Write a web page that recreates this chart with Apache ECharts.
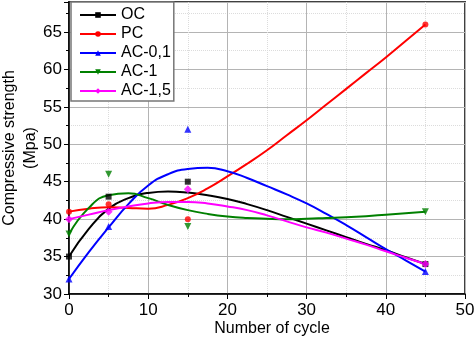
<!DOCTYPE html>
<html>
<head>
<meta charset="utf-8">
<style>
  html, body { margin: 0; padding: 0; background: #fff; }
  #chart { width: 474px; height: 337px; }
</style>
<script src="https://cdn.jsdelivr.net/npm/echarts@6/dist/echarts.min.js"></script>
</head>
<body>
<div id="chart"></div>
<script>
// Measured compressive strength (MPa) at each number of freeze-thaw cycles
const cycles = [0, 5, 15, 45];
const oc   = [35, 43, 45, 34];
const pc   = [41, 42, 40, 66];
const ac01 = [32, 39, 52, 33];
const ac1  = [38, 46, 39, 41];
const ac15 = [40, 41, 44, 34];

// Smoothed trend curves, sampled every 2.5 cycles
const fitX    = [0, 2.5, 5, 7.5, 10, 12.5, 15, 17.5, 20, 22.5, 25, 27.5, 30, 32.5, 35, 37.5, 40, 42.5, 45];
const ocFit   = [35, 38.7, 41.4, 42.8, 43.5, 43.7, 43.55, 43.2, 42.7, 42.0, 41.2, 40.3, 39.4, 38.5, 37.6, 36.7, 35.85, 34.9, 34];
const pcFit   = [41, 41.4, 41.6, 41.5, 41.4, 41.9, 42.8, 44.1, 45.7, 47.4, 49.2, 51.2, 53.2, 55.3, 57.4, 59.5, 61.6, 63.8, 66];
const ac01Fit = [32, 35.6, 38.9, 42.0, 44.5, 46.0, 46.7, 46.85, 46.4, 45.5, 44.4, 43.3, 42.1, 40.7, 39.2, 37.6, 36.0, 34.5, 33];
const ac1Fit  = [38, 41.5, 43.2, 43.45, 42.8, 41.9, 41.2, 40.7, 40.35, 40.15, 40.05, 40.0, 40.05, 40.15, 40.25, 40.4, 40.6, 40.8, 41];
const ac15Fit = [40, 40.6, 41.2, 41.7, 42.1, 42.3, 42.3, 42.1, 41.7, 41.2, 40.5, 39.7, 38.9, 38.2, 37.4, 36.6, 35.7, 34.85, 34];

const yTicks = { min: 30, max: 69, interval: 5 };
const xTicks = { min: 0, max: 50, interval: 10 };

const groups = [
  { name: 'OC',     color: '#000000', symbol: 'rect',     size: 6, pts: oc,   fit: ocFit },
  { name: 'PC',     color: '#FF0000', symbol: 'circle',   size: 6, pts: pc,   fit: pcFit },
  { name: 'AC-0,1', color: '#0000FF', symbol: 'triangle', size: 7, pts: ac01, fit: ac01Fit },
  { name: 'AC-1',   color: '#008000', symbol: 'path://M0,0L10,0L5,9Z', size: 7, pts: ac1, fit: ac1Fit },
  { name: 'AC-1,5', color: '#FF00FF', symbol: 'diamond',  size: 8, pts: ac15, fit: ac15Fit }
];

const pair = (xs, ys) => xs.map((x, i) => [x, ys[i]]);

const series = [];
groups.forEach(g => {
  series.push({
    name: g.name,
    type: 'line',
    smooth: 0.5,
    data: pair(fitX, g.fit),
    symbol: g.symbol,
    symbolSize: g.size,
    showSymbol: false,
    lineStyle: { color: g.color, width: 2 },
    itemStyle: { color: g.color },
    z: 3
  });
  series.push({
    name: g.name,
    type: 'scatter',
    data: pair(cycles, g.pts),
    symbol: g.symbol,
    symbolSize: g.size,
    itemStyle: { color: g.color },
    z: 4
  });
});

const font = 'Liberation Sans, Arial, sans-serif';
const chart = echarts.init(document.getElementById('chart'), null, { renderer: 'canvas' });
chart.setOption({
  animation: false,
  backgroundColor: '#fff',
  textStyle: { fontFamily: font },
  grid: {
    left: 69, right: 9, top: 2, bottom: 43,
    outerBoundsMode: 'none',
    containLabel: false,
    show: true, borderColor: '#404040', borderWidth: 2, backgroundColor: 'transparent'
  },
  legend: {
    orient: 'vertical',
    left: 71, top: 2,
    padding: [5, 3, 2, 8],
    itemWidth: 36, itemHeight: 7, itemGap: 3,
    backgroundColor: '#fff',
    borderColor: '#777', borderWidth: 1.5,
    textStyle: { fontSize: 16, lineHeight: 16, color: '#000', fontFamily: font },
    data: groups.map(g => g.name)
  },
  xAxis: {
    type: 'value',
    min: xTicks.min, max: xTicks.max, interval: xTicks.interval,
    name: 'Number of cycle',
    nameLocation: 'middle', nameGap: 27, nameMoveOverlap: false,
    nameTextStyle: { fontSize: 16, color: '#000', fontFamily: font, padding: [0, 0, 0, 10] },
    axisLine: { lineStyle: { color: '#000', width: 1.5 } },
    axisTick: { length: 5, lineStyle: { color: '#000' } },
    minorTick: { show: true, splitNumber: 2, length: 3, lineStyle: { color: '#000' } },
    axisLabel: { fontSize: 17, color: '#000', margin: 8, fontFamily: font },
    splitLine: { show: true, lineStyle: { color: '#b4b4b4', width: 1 } },
    minorSplitLine: { show: true, lineStyle: { color: '#dcdcdc', type: 'dotted', width: 1 } }
  },
  yAxis: {
    type: 'value',
    min: yTicks.min, max: yTicks.max, interval: yTicks.interval,
    name: 'Compressive strength\n(Mpa)',
    nameLocation: 'middle', nameGap: 28, nameRotate: 90, nameMoveOverlap: false,
    nameTextStyle: { fontSize: 16, color: '#000', fontFamily: font, lineHeight: 21 },
    axisLine: { lineStyle: { color: '#000', width: 1.5 } },
    axisTick: { length: 5, lineStyle: { color: '#000' } },
    minorTick: { show: true, splitNumber: 2, length: 3, lineStyle: { color: '#000' } },
    axisLabel: { fontSize: 17, color: '#000', margin: 7, fontFamily: font, showMaxLabel: false },
    splitLine: { show: true, lineStyle: { color: '#b4b4b4', width: 1 } },
    minorSplitLine: { show: true, lineStyle: { color: '#dcdcdc', type: 'dotted', width: 1 } }
  },
  series: series
});
</script>
</body>
</html>
